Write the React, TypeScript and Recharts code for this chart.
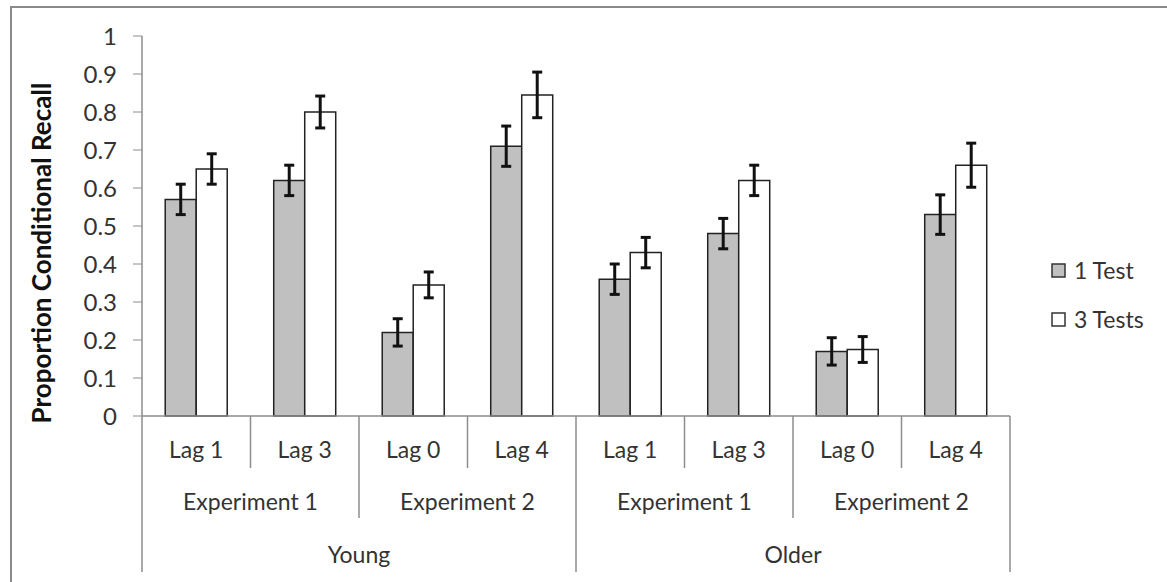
import React from 'react'
import { BarChart, Bar, XAxis, YAxis, ErrorBar, Customized } from 'recharts'

// values
const lags = ['Lag 1', 'Lag 3', 'Lag 0', 'Lag 4', 'Lag 1', 'Lag 3', 'Lag 0', 'Lag 4']
const experiments = ['Experiment 1', 'Experiment 2', 'Experiment 1', 'Experiment 2']
const ageGroups = ['Young', 'Older']
const oneTest = [0.57, 0.62, 0.22, 0.71, 0.36, 0.48, 0.17, 0.53]
const threeTests = [0.65, 0.8, 0.345, 0.845, 0.43, 0.62, 0.175, 0.66]
const oneTestErr = [0.04, 0.04, 0.036, 0.053, 0.04, 0.04, 0.036, 0.052]
const threeTestsErr = [0.04, 0.042, 0.034, 0.06, 0.04, 0.04, 0.034, 0.058]
const yTicks = [0, 0.1, 0.2, 0.3, 0.4, 0.5, 0.6, 0.7, 0.8, 0.9, 1]

const W = 1167
const H = 582
const PLOT_LEFT = 142
const PLOT_RIGHT = 1010
const PLOT_TOP = 36
const PLOT_BOTTOM = 416
const BAND = (PLOT_RIGHT - PLOT_LEFT) / lags.length
const FONT = 'Lato, "Open Sans", sans-serif'
const TEXT = '#333'
const GRID = '#8c8c8c'

const data = lags.map((lag, i) => ({
  lag,
  oneTest: oneTest[i],
  threeTests: threeTests[i],
  oneTestErr: oneTestErr[i],
  threeTestsErr: threeTestsErr[i],
}))

function CategoryTick(props: any) {
  const { x, payload } = props
  const i = payload.index
  const left = x - BAND / 2
  const sepLen = (k: number) => (k % 4 === 0 ? 156 : k % 2 === 0 ? 102 : 52)
  return (
    <g>
      <line x1={left} x2={left} y1={PLOT_BOTTOM} y2={PLOT_BOTTOM + sepLen(i)} stroke={GRID} strokeWidth={1.5} />
      {i === lags.length - 1 && (
        <line x1={left + BAND} x2={left + BAND} y1={PLOT_BOTTOM} y2={PLOT_BOTTOM + 156} stroke={GRID} strokeWidth={1.5} />
      )}
      <text x={x} y={PLOT_BOTTOM + 42} textAnchor="middle" fontSize={23} fontFamily={FONT} fill={TEXT}>
        {lags[i]}
      </text>
      {i % 2 === 0 && (
        <text x={x + BAND / 2} y={PLOT_BOTTOM + 94} textAnchor="middle" fontSize={23} fontFamily={FONT} fill={TEXT}>
          {experiments[i / 2]}
        </text>
      )}
      {i % 4 === 0 && (
        <text x={x + BAND * 1.5} y={PLOT_BOTTOM + 147} textAnchor="middle" fontSize={23} fontFamily={FONT} fill={TEXT}>
          {ageGroups[i / 4]}
        </text>
      )}
    </g>
  )
}

function Extras() {
  const rows = [
    { name: '1 Test', fill: '#c0c0c0', y: 271 },
    { name: '3 Tests', fill: '#ffffff', y: 320 },
  ]
  return (
    <g>
      <text
        transform={`translate(51, ${(PLOT_TOP + PLOT_BOTTOM) / 2 + 27}) rotate(-90)`}
        textAnchor="middle"
        fontSize={26}
        fontWeight="bold"
        fontFamily={FONT}
        fill="#111"
      >
        Proportion Conditional Recall
      </text>
      {rows.map((r) => (
        <g key={r.name}>
          <rect x={1052} y={r.y - 7} width={13} height={13} fill={r.fill} stroke="#333" strokeWidth={1.5} />
          <text x={1074} y={r.y + 8} fontSize={23} fontFamily={FONT} fill={TEXT}>
            {r.name}
          </text>
        </g>
      ))}
    </g>
  )
}

export default function App() {
  return (
    <div style={{ position: 'absolute', left: 0, top: 0, width: W, height: H, background: '#fff' }}>
      <div
        style={{
          position: 'absolute',
          left: 10,
          top: 6,
          right: 0,
          bottom: 0,
          borderTop: '2px solid #8a8a8a',
          borderLeft: '2px solid #8a8a8a',
        }}
      />
      <BarChart
        width={W}
        height={H}
        data={data}
        margin={{ top: PLOT_TOP, right: W - PLOT_RIGHT, bottom: 16, left: PLOT_LEFT - 60 }}
        barCategoryGap="21.4%"
        barGap={0}
      >
        <XAxis
          dataKey="lag"
          height={150}
          axisLine={{ stroke: GRID, strokeWidth: 1.5 }}
          tickLine={false}
          interval={0}
          tick={<CategoryTick />}
        />
        <YAxis
          width={60}
          domain={[0, 1]}
          ticks={yTicks}
          interval={0}
          tickFormatter={(v: number) => (v === 0 || v === 1 ? String(v) : v.toFixed(1))}
          axisLine={{ stroke: GRID, strokeWidth: 1.5 }}
          tickLine={{ stroke: GRID }}
          tickSize={9}
          tickMargin={16}
          tick={{ fontSize: 24, fontFamily: FONT, fill: TEXT }}
        />
        <Bar dataKey="oneTest" fill="#c0c0c0" stroke="#222" strokeWidth={1.5} isAnimationActive={false}>
          <ErrorBar dataKey="oneTestErr" width={5} strokeWidth={3} stroke="#111" />
        </Bar>
        <Bar dataKey="threeTests" fill="#ffffff" stroke="#222" strokeWidth={1.5} isAnimationActive={false}>
          <ErrorBar dataKey="threeTestsErr" width={5} strokeWidth={3} stroke="#111" />
        </Bar>
        <Customized component={Extras} />
      </BarChart>
    </div>
  )
}
